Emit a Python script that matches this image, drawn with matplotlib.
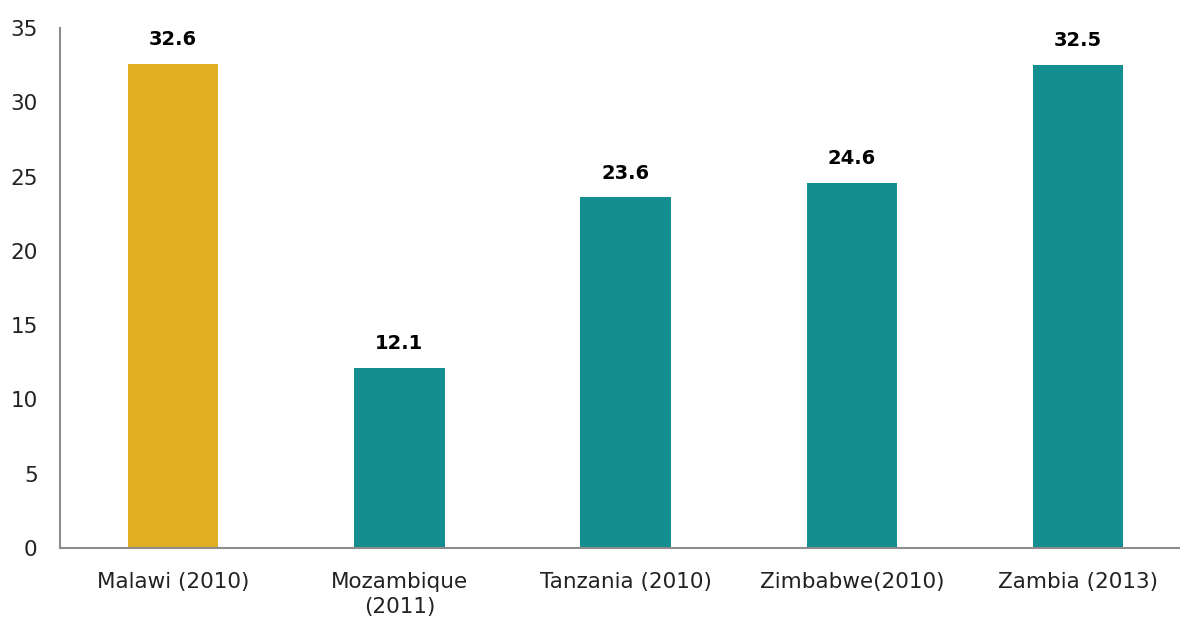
import matplotlib
matplotlib.use("Agg")
import matplotlib.pyplot as plt

categories = ["Malawi (2010)", "Mozambique\n(2011)", "Tanzania (2010)", "Zimbabwe(2010)", "Zambia (2013)"]
values = [32.6, 12.1, 23.6, 24.6, 32.5]
colors = ["#E0AE22", "#148E8F", "#148E8F", "#148E8F", "#148E8F"]
yticks = [0, 5, 10, 15, 20, 25, 30, 35]

plt.rcParams['font.family'] = ['DejaVu Sans']

fig = plt.figure(figsize=(11.8, 6.21), dpi=100)
ax = fig.add_axes([0.0508, 0.1176, 0.9492, 0.8373])
x = list(range(len(categories)))
ax.bar(x, values, width=0.4, color=colors)
for xi, v in zip(x, values):
    ax.text(xi, v + 1.0, f"{v}", ha="center", va="bottom", fontsize=14, fontweight="bold", color="black")

ax.set_xlim(-0.5, 4.45)
ax.set_ylim(0, 35)
ax.set_yticks(yticks)
ax.set_yticklabels([str(t) for t in yticks], fontsize=15.5, color="#222222")
ax.set_xticks(x)
ax.set_xticklabels(categories, fontsize=15.5, color="#222222", linespacing=1.35)
ax.tick_params(axis="both", length=0)
ax.tick_params(axis="x", pad=17)
ax.tick_params(axis="y", pad=16)
for s in ["top", "right"]:
    ax.spines[s].set_visible(False)
for s in ["left", "bottom"]:
    ax.spines[s].set_color("#8C8C8C")
    ax.spines[s].set_linewidth(1.5)

fig.savefig("out.png", dpi=100)
